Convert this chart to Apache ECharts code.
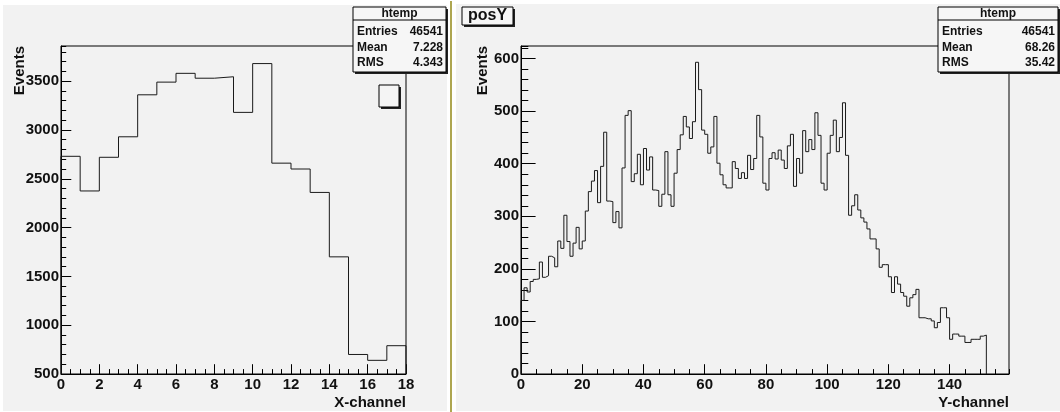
<!DOCTYPE html>
<html><head><meta charset="utf-8">
<script src="https://cdn.jsdelivr.net/npm/echarts@6/dist/echarts.min.js"></script>
<style>html,body{margin:0;padding:0;background:#fff}#c{width:1060px;height:412px}</style>
</head><body><div id="c"></div>
<script>
// ---- data ----
const xChannelCounts = [2730,2375,2720,2930,3360,3490,3580,3530,3545,3180,3680,2660,2600,2360,1700,700,640,790];
const yChannelCounts = [
  140,164,156,176,180,181,213,184,187,224,221,204,253,239,302,252,224,249,279,238,
  253,310,347,367,387,326,395,460,329,328,288,309,278,392,492,501,366,381,418,360,
  429,388,413,350,349,319,342,423,341,319,382,427,455,490,470,448,480,593,541,464,
  456,420,432,490,401,379,360,354,354,404,391,372,383,372,416,389,410,492,451,363,
  350,410,421,409,426,407,391,434,456,357,410,382,463,423,446,427,497,454,363,350,
  420,454,483,423,450,516,416,302,320,341,312,297,289,276,257,257,238,203,208,208,
  185,155,185,171,155,148,129,145,151,161,107,107,105,105,101,88,98,126,126,107,
  66,76,76,72,72,60,60,66,66,66,72,74
];
const statLabels = ['Entries','Mean','RMS'];
const statsLeft = ['46541','7.228','4.343'];
const statsRight = ['46541','68.26','35.42'];
const histName = 'htemp';
const rightTitle = 'posY';
const yTitle = 'Events';
const xTitleLeft = 'X-channel';
const xTitleRight = 'Y-channel';

// ---- helpers ----
function stepData(counts, x0, w, base) {
  const d = [[x0, base]];
  counts.forEach((c, i) => d.push([x0 + i * w, c]));
  d.push([x0 + counts.length * w, counts[counts.length - 1]]);
  d.push([x0 + counts.length * w, base]);
  return d;
}
const FONT = "'Liberation Sans', Arial, Helvetica, sans-serif";
const TXT = '#111';
function axis(gridIndex, min, max, interval, tickLen, opts) {
  const major = opts.major;
  return {
    type: 'value', gridIndex, min, max, interval,
    position: opts.position,
    axisLine: { show: major, onZero: false, lineStyle: { color: '#000', width: 1 } },
    axisTick: { show: true, inside: true, length: tickLen, lineStyle: { color: '#000', width: 1 } },
    axisLabel: major ? {
      show: true, showMaxLabel: !!opts.showMax, margin: opts.margin,
      formatter: v => String(Math.round(v)),
      color: TXT, fontFamily: FONT, fontWeight: 'bold', fontSize: 15
    } : { show: false },
    splitLine: { show: false }
  };
}
const L = { left: 61, top: 46, width: 345, height: 328 };
const R = { left: 521, top: 46, width: 488, height: 328 };
const leftYMax = 3860, rightYMax = 624, rightXMax = 159.4;

function shadowBox(x, y, w, h, fill) {
  return [
    { type: 'rect', shape: { x: x + 2, y: y + 2, width: w, height: h }, style: { fill: '#222' }, z: 20 },
    { type: 'rect', shape: { x, y, width: w, height: h }, style: { fill, stroke: '#000', lineWidth: 1 }, z: 21 }
  ];
}
function statsBox(x, y, w, values) {
  const els = shadowBox(x, y, w, 65, '#f6f6f6');
  els.push({ type: 'line', shape: { x1: x, y1: y + 13, x2: x + w, y2: y + 13 }, style: { stroke: '#000', lineWidth: 1 }, z: 22 });
  els.push({ type: 'text', x: x + w / 2, y: y + 7, z: 22,
    style: { text: histName, align: 'center', verticalAlign: 'middle', font: 'bold 12px ' + FONT, fill: TXT } });
  statLabels.forEach((lab, i) => {
    const ty = y + 25 + i * 15.5;
    els.push({ type: 'text', x: x + 4, y: ty, z: 22,
      style: { text: lab, align: 'left', verticalAlign: 'middle', font: 'bold 12px ' + FONT, fill: TXT } });
    els.push({ type: 'text', x: x + w - 3, y: ty, z: 22,
      style: { text: values[i], align: 'right', verticalAlign: 'middle', font: 'bold 12px ' + FONT, fill: TXT } });
  });
  return els;
}

const graphics = [
  { type: 'rect', shape: { x: 3, y: 5, width: 444, height: 406 }, style: { fill: '#f2f2f2' }, z: -10 },
  { type: 'rect', shape: { x: 450, y: 1, width: 2, height: 411 }, style: { fill: '#aea650' }, z: -10 },
  { type: 'rect', shape: { x: 456, y: 4, width: 604, height: 407 }, style: { fill: '#f2f2f2' }, z: -10 },
  { type: 'text', x: 20, y: 46, rotation: Math.PI / 2, z: 10,
    style: { text: yTitle, align: 'right', verticalAlign: 'middle', font: 'bold 15px ' + FONT, fill: TXT } },
  { type: 'text', x: 483, y: 46, rotation: Math.PI / 2, z: 10,
    style: { text: yTitle, align: 'right', verticalAlign: 'middle', font: 'bold 15px ' + FONT, fill: TXT } },
  { type: 'text', x: 406, y: 403, z: 10,
    style: { text: xTitleLeft, align: 'right', verticalAlign: 'middle', font: 'bold 15px ' + FONT, fill: TXT } },
  { type: 'text', x: 1009, y: 403, z: 10,
    style: { text: xTitleRight, align: 'right', verticalAlign: 'middle', font: 'bold 15px ' + FONT, fill: TXT } },
  ...shadowBox(379, 85, 20, 22, '#f4f4f4'),
  ...shadowBox(462, 7, 51, 18, '#f6f6f6'),
  { type: 'text', x: 487.5, y: 16, z: 22,
    style: { text: rightTitle, align: 'center', verticalAlign: 'middle', font: 'bold 16px ' + FONT, fill: TXT } },
  ...statsBox(353, 7, 93, statsLeft),
  ...statsBox(938, 7, 120, statsRight)
];

const option = {
  animation: false,
  backgroundColor: '#ffffff',
  grid: [
    Object.assign({ show: true, borderColor: '#000', borderWidth: 1, backgroundColor: 'transparent', containLabel: false }, L),
    Object.assign({ show: true, borderColor: '#000', borderWidth: 1, backgroundColor: 'transparent', containLabel: false }, R)
  ],
  xAxis: [
    axis(0, 0, 18, 2, 9.8, { major: true, position: 'bottom', margin: 3, showMax: true }),
    axis(0, 0, 18, 0.5, 4.9, { major: false, position: 'bottom' }),
    axis(1, 0, rightXMax, 20, 9.8, { major: true, position: 'bottom', margin: 3 }),
    axis(1, 0, rightXMax, 5, 4.9, { major: false, position: 'bottom' })
  ],
  yAxis: [
    axis(0, 500, leftYMax, 500, 10.3, { major: true, position: 'left', margin: 2 }),
    axis(0, 500, leftYMax, 100, 5.2, { major: false, position: 'left' }),
    axis(1, 0, rightYMax, 100, 14.6, { major: true, position: 'left', margin: 2 }),
    axis(1, 0, rightYMax, 20, 7.3, { major: false, position: 'left' })
  ],
  series: [
    { type: 'line', step: 'end', xAxisIndex: 0, yAxisIndex: 0, symbol: 'none', silent: true,
      lineStyle: { color: '#1a1a1a', width: 1 }, data: stepData(xChannelCounts, 0, 1, 500), z: 5 },
    { type: 'line', step: 'end', xAxisIndex: 2, yAxisIndex: 2, symbol: 'none', silent: true,
      lineStyle: { color: '#1a1a1a', width: 1 }, data: stepData(yChannelCounts, 0, 1, 0), z: 5 }
  ],
  graphic: graphics
};
const chart = echarts.init(document.getElementById('c'), null, { renderer: 'canvas' });
chart.setOption(option);
</script></body></html>
